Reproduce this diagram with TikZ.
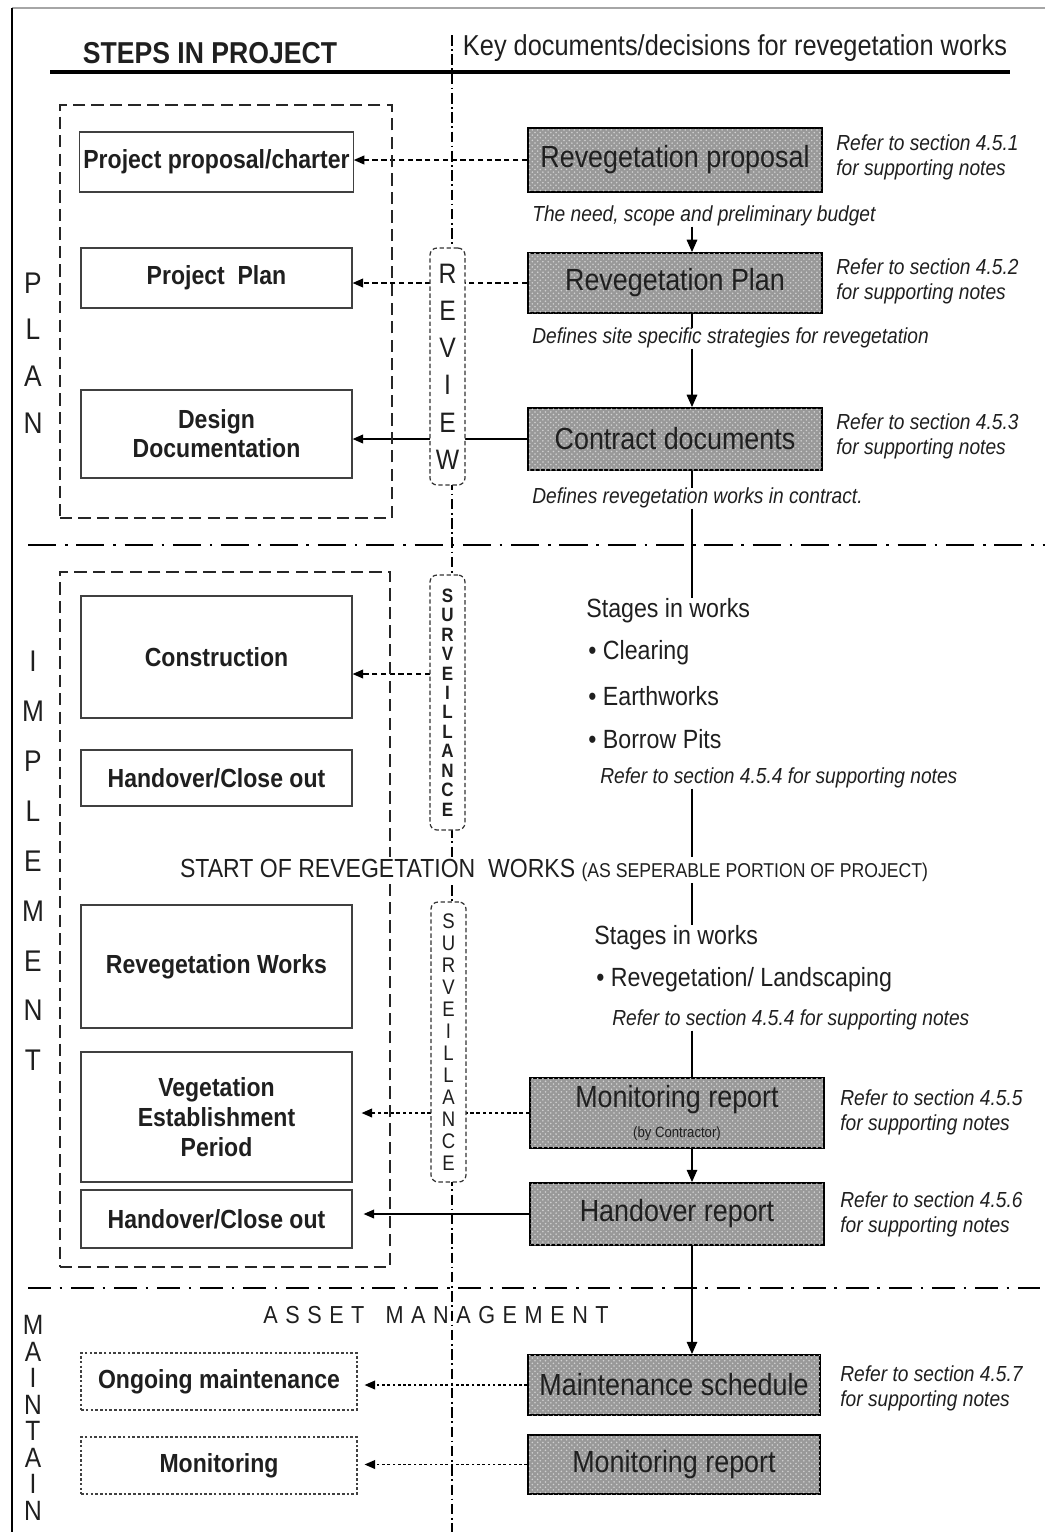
\documentclass[tikz,border=0pt]{standalone}
\usepackage{fontspec}
\setmainfont[FakeStretch=0.88]{Liberation Sans}
\usetikzlibrary{arrows.meta,patterns,calc}
\pgfdeclarelayer{bg}
\pgfsetlayers{bg,main}
\newcommand\lsp{\hspace{4.3pt}}
\begin{document}
\begin{tikzpicture}[x=0.02cm,y=-0.02cm,
  every node/.style={text=black!88},
  stepbox/.style={draw=black!75, line width=0.7pt, minimum width=5.42cm, inner sep=2pt, align=center,
    font=\fontsize{14.9pt}{16.6pt}\selectfont\bfseries},
  mainbox/.style={stepbox, dash pattern=on 1.5pt off 1.2pt, minimum width=5.52cm, minimum height=1.14cm},
  outerbox/.style={draw=black!85, line width=1pt, dash pattern=on 7pt off 3.5pt},
  docbox/.style={draw=black, line width=1.1pt, fill=black!40,
    postaction={pattern=crosshatch dots, pattern color=black!18},
    minimum width=5.88cm, inner sep=1pt, align=center, font=\fontsize{17.4pt}{19pt}\selectfont},
  note/.style={font=\fontsize{12.4pt}{14.2pt}\selectfont\itshape, align=left, anchor=west, inner sep=0pt},
  stage/.style={font=\fontsize{15pt}{17pt}\selectfont, anchor=west, inner sep=0pt},
  vbox/.style={draw=black!80, dash pattern=on 2.5pt off 1.5pt, rounded corners=4pt, fill=white,
    minimum width=0.7cm, inner sep=0pt, align=center, line width=0.7pt},
  side/.style={align=center, inner sep=0pt},
  conn/.style={line width=0.8pt, -{Triangle[length=6pt,width=5pt]}},
  flowl/.style={line width=0.8pt},
  flowa/.style={line width=0.8pt, -{Triangle[length=7pt,width=6pt]}},
  dashdotc/.style={line width=0.7pt, dash pattern=on 6pt off 2pt on 1pt off 2pt},
  sepline/.style={line width=1.4pt, dash pattern=on 16pt off 5pt on 1.5pt off 5pt}
]
\useasboundingbox (0,0) rectangle (1053,1532);

% frame
\coordinate (fl1) at (12,8);
\coordinate (fl2) at (12,1532);
\coordinate (ft2) at (1045,8);
\draw[gray!70, line width=0.6pt] (fl1) -- (ft2);
\draw[line width=0.6pt] (fl1) -- (fl2);

% headings
\node[font=\fontsize{17.2pt}{20pt}\selectfont\bfseries] (hsteps) at (210,53) {STEPS IN PROJECT};
\node[font=\fontsize{16.4pt}{19pt}\selectfont] (hkey) at (735,48) {Key documents/decisions for revegetation works};
\coordinate (rl) at (50,72);
\coordinate (rr) at (1010,72);
\draw[line width=1.8pt] (rl) -- (rr);

% central line and separators
\coordinate (ct) at (452,35);
\coordinate (cb) at (452,1532);
\coordinate (s1l) at (28,545);
\coordinate (s1r) at (1045,545);
\coordinate (s2l) at (28,1288);
\coordinate (s2r) at (1040,1288);
\coordinate (fx) at (692,0);

% outer dashed boxes
\node[outerbox, minimum width=6.64cm, minimum height=8.26cm] (planbox) at (226,311.5) {};
\node[outerbox, minimum width=6.6cm, minimum height=13.9cm] (implbox) at (225,919.5) {};

% side letters
\node[side, font=\fontsize{17pt}{26.6pt}\selectfont] (plan) at (33,353) {P\\L\\A\\N};
\node[side, font=\fontsize{17pt}{28.4pt}\selectfont] (impl) at (33,861) {I\\M\\P\\L\\E\\M\\E\\N\\T};
\node[side, font=\fontsize{15.9pt}{15.1pt}\selectfont] (maintain) at (33,1418) {M\\A\\I\\N\\T\\A\\I\\N};

% review / surveillance
\node[vbox, minimum height=4.74cm, font=\fontsize{16pt}{21.2pt}\selectfont] (rev) at (447.5,366.5) {R\\E\\V\\I\\E\\W};
\node[vbox, minimum height=5.1cm, font=\fontsize{11pt}{11.06pt}\selectfont\bfseries] (surv1) at (447.5,702.5) {S\\U\\R\\V\\E\\I\\L\\L\\A\\N\\C\\E};
\node[vbox, minimum height=5.6cm, font=\fontsize{12pt}{12.5pt}\selectfont] (surv2) at (448.5,1042) {S\\U\\R\\V\\E\\I\\L\\L\\A\\N\\C\\E};

% step boxes
\node[stepbox, minimum height=1.2cm] (ppc) at (216.5,162) {Project proposal/charter};
\node[stepbox, minimum height=1.2cm] (pplan) at (216.5,278) {Project\ \ Plan};
\node[stepbox, minimum height=1.76cm] (design) at (216.5,434) {Design\\Documentation};
\node[stepbox, minimum height=2.44cm] (constr) at (216.5,657) {Construction};
\node[stepbox, minimum height=1.12cm] (hco1) at (216.5,778) {Handover/Close out};
\node[stepbox, minimum height=2.46cm] (rwork) at (216.5,966.5) {Revegetation Works};
\node[stepbox, minimum height=2.6cm] (vep) at (216.5,1117) {Vegetation\\[0.5pt]Establishment\\[0.5pt]Period};
\node[stepbox, minimum height=1.16cm] (hco2) at (216.5,1219) {Handover/Close out};
\node[mainbox] (ongo) at (219,1381.5) {Ongoing maintenance};
\node[mainbox] (mon) at (219,1465.5) {Monitoring};

% key documents
\node[docbox, minimum height=1.28cm] (prop) at (675,160) {Revegetation proposal};
\node[docbox, minimum height=1.2cm] (rplan) at (675,283) {Revegetation Plan};
\node[docbox, minimum height=1.24cm] (contr) at (675,439) {Contract documents};
\node[docbox, minimum height=1.4cm] (monit) at (677,1113) {Monitoring report\\[-2pt]{\fontsize{8.5pt}{9pt}\selectfont (by Contractor)}};
\node[docbox, minimum height=1.24cm] (hando) at (677,1214) {Handover report};
\node[docbox, minimum height=1.2cm, minimum width=5.84cm] (maint) at (674,1385) {Maintenance schedule};
\node[docbox, minimum height=1.18cm, minimum width=5.84cm] (monit2) at (674,1464.5) {Monitoring report};

% notes
\node[note] (r1) at (836,157) {Refer to section 4.5.1\\for supporting notes};
\node[note] (r2) at (836,281) {Refer to section 4.5.2\\for supporting notes};
\node[note] (r3) at (836,436) {Refer to section 4.5.3\\for supporting notes};
\node[note] (r5) at (840,1112) {Refer to section 4.5.5\\for supporting notes};
\node[note] (r6) at (840,1214) {Refer to section 4.5.6\\for supporting notes};
\node[note] (r7) at (840,1388) {Refer to section 4.5.7\\for supporting notes};

\node[note] (need) at (532,216) {The need, scope and preliminary budget};
\node[note] (def1) at (532,338) {Defines site specific strategies for revegetation};
\node[note] (def2) at (532,498) {Defines revegetation works in contract.};

\node[stage] (stg1) at (586,611) {Stages in works};
\node[stage] (b1) at (588,653) {\textbullet\ Clearing};
\node[stage] (b2) at (588,696) {\textbullet\ Earthworks};
\node[stage] (b3) at (588,739) {\textbullet\ Borrow Pits};
\node[note] (ref4a) at (600,778) {Refer to section 4.5.4 for supporting notes};

\node[anchor=west, fill=white, inner sep=1pt, font=\fontsize{14.9pt}{17pt}\selectfont] (start) at (178,870)
  {START OF REVEGETATION\ \ WORKS {\fontsize{11.4pt}{13pt}\selectfont (AS SEPERABLE PORTION OF PROJECT)}};

\node[stage] (stg2) at (594,938) {Stages in works};
\node[stage] (b4) at (596,980) {\textbullet\ Revegetation/ Landscaping};
\node[note] (ref4b) at (612,1020) {Refer to section 4.5.4 for supporting notes};

\node[font=\fontsize{14pt}{16pt}\selectfont] (asset) at (436,1315)
  {A\lsp S\lsp S\lsp E\lsp T\lsp\ \lsp M\lsp A\lsp N\lsp A\lsp G\lsp E\lsp M\lsp E\lsp N\lsp T};

\begin{pgfonlayer}{bg}
  \draw[dashdotc] (ct) -- (cb);
  \draw[sepline] (s1l) -- (s1r);
  \draw[sepline, line width=1.2pt, dash pattern=on 13pt off 5pt on 1.5pt off 5pt] (s2l) -- (s2r);
  % connectors to steps
  \draw[conn, dash pattern=on 3pt off 2pt] (prop.west) -- (prop.west -| ppc.east);
  \draw[conn, dash pattern=on 3pt off 2pt] (rplan.west) -- (rplan.west -| pplan.east);
  \draw[conn] (contr.west) -- (contr.west -| design.east);
  \coordinate (c1) at (430,674);
  \draw[conn, dash pattern=on 3pt off 2pt] (c1) -- (c1 -| constr.east);
  \draw[conn, dash pattern=on 2pt off 1.5pt, shorten >=0.18cm] (monit.west) -- (monit.west -| vep.east);
  \draw[conn, shorten >=0.22cm] (hando.west) -- (hando.west -| hco2.east);
  \draw[conn, dash pattern=on 1.5pt off 1.5pt, shorten >=0.14cm] (maint.west) -- (maint.west -| ongo.east);
  \draw[conn, dash pattern=on 1.5pt off 1.5pt, shorten >=0.14cm] (monit2.west) -- (monit2.west -| mon.east);
  % flow
  \draw[flowa] (need.south -| fx) -- (rplan.north -| fx);
  \draw[flowl] (rplan.south -| fx) -- (def1.north -| fx);
  \draw[flowa] (def1.south -| fx) -- (contr.north -| fx);
  \draw[flowl] (contr.south -| fx) -- (def2.north -| fx);
  \draw[flowl] (def2.south -| fx) -- (stg1.north -| fx);
  \draw[flowl] (ref4a.south -| fx) -- (start.north -| fx);
  \draw[flowl] (start.south -| fx) -- (stg2.north -| fx);
  \draw[flowl] (ref4b.south -| fx) -- (monit.north -| fx);
  \draw[flowa] (monit.south -| fx) -- (hando.north -| fx);
  \draw[flowa] (hando.south -| fx) -- (maint.north -| fx);
\end{pgfonlayer}
\end{tikzpicture}
\end{document}
